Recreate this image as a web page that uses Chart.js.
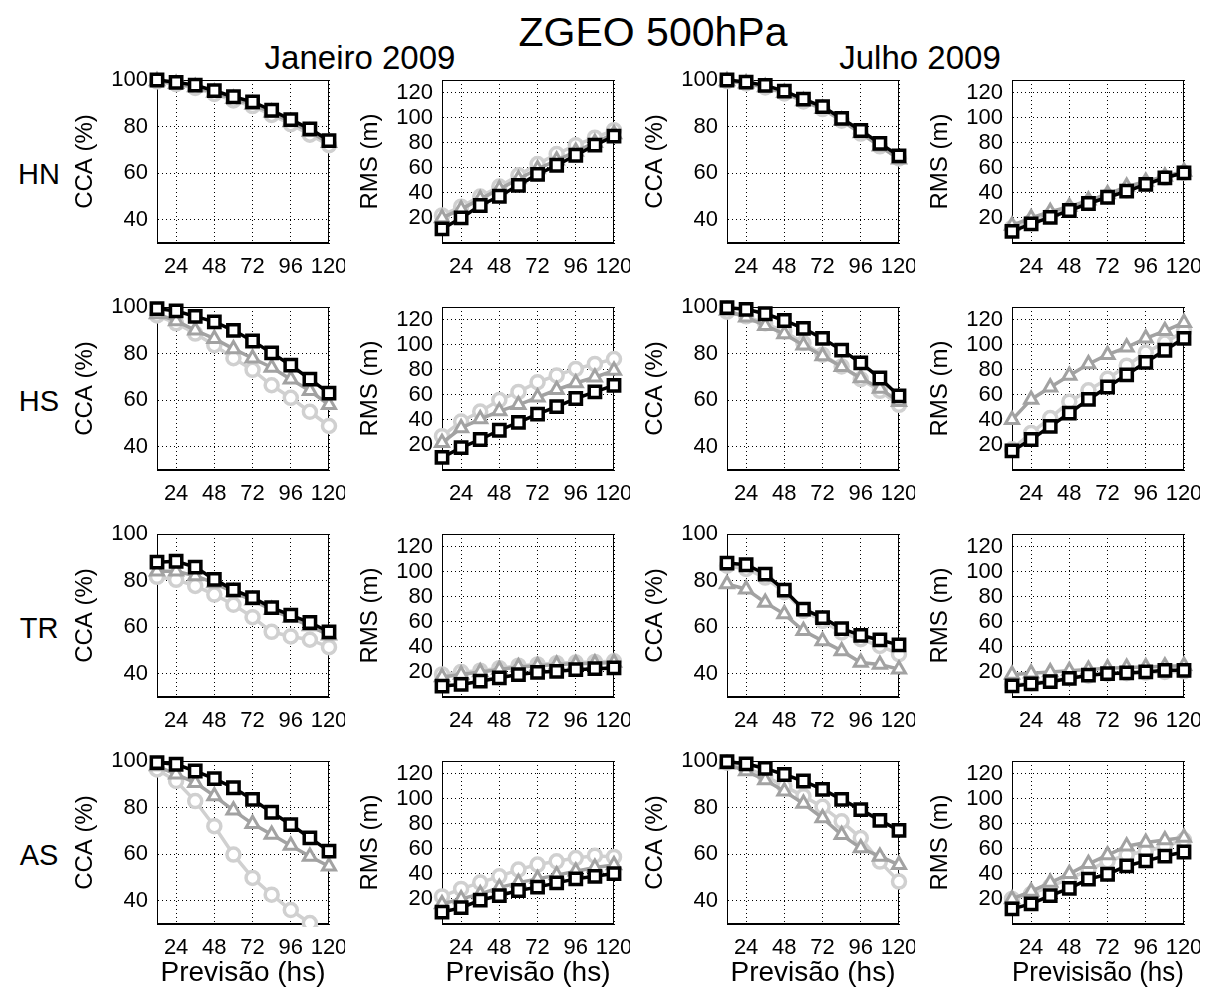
<!DOCTYPE html>
<html>
<head>
<meta charset="utf-8">
<script src="https://cdn.jsdelivr.net/npm/chart.js@4.4.1/dist/chart.umd.min.js"></script>
<style>
  body { margin: 0; background: #fff; }
  #fig { position: relative; width: 1207px; height: 988px; overflow: hidden; font-family: "Liberation Sans", Arial, sans-serif; }
  #fig canvas { position: absolute; }
  .txt { position: absolute; transform: translate(-50%, -50%); line-height: 1; white-space: nowrap; color: #000; }
</style>
</head>
<body>
<div id="fig"></div>
<script>
// eixo x: horas de previsao
const horas = [12, 24, 36, 48, 60, 72, 84, 96, 108, 120];
const xTicks = [24, 48, 72, 96, 120];
const ccaTicks = [40, 60, 80, 100];
const rmsTicks = [20, 40, 60, 80, 100, 120];
const linhas = ['HN', 'HS', 'TR', 'AS'];

// circulos (cinza claro), triangulos (cinza), quadrados (preto)
const hnJanCcaC = [99.4, 98.2, 96.6, 94, 91.2, 88.8, 85, 81, 76.5, 72];
const hnJanCcaT = [99.6, 98.4, 97, 94.6, 92, 89.5, 86, 82, 77.8, 73];
const hnJanCcaQ = [100, 99, 97.8, 95.4, 92.8, 90.6, 87, 83, 79, 74];
const hnJanRmsC = [22, 29, 37, 45, 54, 63, 71, 78, 84, 90];
const hnJanRmsT = [20, 27, 35, 43, 51, 59, 66, 73, 80, 87];
const hnJanRmsQ = [11.2, 20, 29.9, 37.3, 46, 54.7, 62, 70, 78, 85.3];

const hsJanCcaC = [96.4, 93, 88.6, 83.6, 78, 73, 66.4, 61, 55, 48.9];
const hsJanCcaT = [97, 94, 90, 86.4, 82, 78, 74, 69, 64, 58];
const hsJanCcaQ = [99.3, 98.3, 96, 93.6, 90, 85.4, 80.3, 75, 69, 63];
const hsJanRmsC = [27, 38.7, 46.6, 55.8, 62.3, 70, 75.4, 80.6, 84.6, 88.5];
const hsJanRmsT = [21.7, 33.5, 40.6, 47, 52, 58, 64, 69.4, 74, 79.3];
const hsJanRmsQ = [10, 17.8, 24.3, 31.7, 38, 44.5, 50.5, 57, 62.3, 67.5];

const trJanCcaC = [81.6, 80.3, 77.7, 74, 69.6, 64.3, 58, 56, 54.6, 51.4];
const trJanCcaT = [84, 84, 82, 79, 75, 71.5, 67.5, 64, 60.5, 56.5];
const trJanCcaQ = [87.9, 88.3, 85.8, 80.5, 76, 72.7, 68.4, 65.2, 62, 58];
const trJanRmsC = [18, 20, 21, 23, 25, 26, 27, 27.5, 28, 28.5];
const trJanRmsT = [16, 18, 20, 22, 24, 25, 26, 26.5, 27, 27.5];
const trJanRmsQ = [8.7, 10, 12.6, 15.3, 17.9, 19.7, 20.5, 21.8, 22.6, 23.2];

const asJanCcaC = [96.4, 91.4, 82.8, 72, 59.8, 49.8, 42.6, 36, 30.4, 25];
const asJanCcaT = [97.8, 94.3, 90.7, 85, 78.8, 73, 68.4, 63.7, 59, 54.8];
const asJanCcaQ = [99.3, 98.6, 95.7, 92.4, 88.5, 83.5, 78, 72.7, 67, 61.3];
const asJanRmsC = [22, 28, 33, 38, 43.4, 47.4, 50, 52.6, 54.5, 53.5];
const asJanRmsT = [16, 20, 24, 29, 33, 36, 39, 42, 45, 47];
const asJanRmsQ = [9.5, 13, 19, 22.7, 26.7, 29.4, 32.8, 36, 38, 40.2];

const hnJulCcaC = [99.5, 98.5, 96.8, 94.2, 90.8, 87.5, 82.5, 77, 71.5, 66.3];
const hnJulCcaT = [99.6, 98.6, 97, 94.5, 91, 87.6, 82.6, 77.2, 71.6, 66];
const hnJulCcaQ = [100, 99.1, 97.7, 95.2, 91.8, 88.6, 83.5, 78.3, 72.8, 67.4];
const hnJulRmsC = [12, 17, 22, 27, 32, 37, 42, 47, 52, 56];
const hnJulRmsT = [14, 20, 25, 29, 34, 39, 45, 49, 53, 57];
const hnJulRmsQ = [9.3, 15.2, 20.5, 25.9, 31.5, 36.5, 41.3, 46.7, 52, 56];

const hsJulCcaC = [98, 96, 93, 89.5, 84.5, 79.5, 74.5, 69, 64, 58];
const hsJulCcaT = [98.5, 95.6, 92, 88.4, 83.6, 79, 74.3, 69.5, 65, 59.3];
const hsJulCcaQ = [99.7, 99, 97.1, 94.2, 90.8, 86.5, 81.5, 76, 69.5, 61.8];
const hsJulRmsC = [16.5, 29.6, 41.4, 54.5, 63.6, 72.8, 83.2, 93.7, 101.6, 110.7];
const hsJulRmsT = [40, 56.3, 66, 75.4, 84.6, 92, 97.8, 105, 111, 117.5];
const hsJulRmsQ = [15.2, 24.3, 34.8, 45.3, 56.3, 66.2, 75.9, 85.9, 95.5, 105];

const trJulCcaC = [86.4, 85, 81.3, 75, 67, 62.7, 57.7, 54.8, 51.9, 48.4];
const trJulCcaT = [78.5, 76.3, 70.6, 65.6, 58.4, 54.1, 49.8, 44.8, 44, 41.9];
const trJulCcaQ = [87.5, 86.8, 82.8, 75.9, 67.7, 64.1, 59.4, 56.5, 54.5, 52.4];
const trJulRmsC = [9.5, 11, 13, 15, 17, 18.5, 19, 19.5, 20, 20.5];
const trJulRmsT = [18, 19, 20, 21, 22, 23, 23.5, 24, 24.5, 25];
const trJulRmsQ = [8.8, 10.4, 12.2, 14.8, 17.4, 18.7, 19.2, 20, 21.3, 21.3];

const asJulCcaC = [99.3, 97.1, 93.5, 89.2, 84.9, 80.3, 74.1, 66.9, 56.8, 48.2];
const asJulCcaT = [98.6, 95.7, 91.8, 87, 81.7, 75.5, 68.3, 62.6, 59, 55.4];
const asJulCcaQ = [99.7, 98.8, 96.8, 94.2, 91.4, 87.8, 83.5, 79.1, 74.5, 70.2];
const asJulRmsC = [20, 24, 30, 36, 43, 50, 55, 58, 62, 67];
const asJulRmsT = [20, 26, 33, 40, 48, 55, 62, 65, 67, 69];
const asJulRmsQ = [12.1, 16, 22.6, 28.4, 35.8, 39.7, 46.3, 50.3, 54.2, 57.4];

// [linha][coluna] -> [circulos, triangulos, quadrados]
const paineis = [
  [[hnJanCcaC, hnJanCcaT, hnJanCcaQ], [hnJanRmsC, hnJanRmsT, hnJanRmsQ], [hnJulCcaC, hnJulCcaT, hnJulCcaQ], [hnJulRmsC, hnJulRmsT, hnJulRmsQ]],
  [[hsJanCcaC, hsJanCcaT, hsJanCcaQ], [hsJanRmsC, hsJanRmsT, hsJanRmsQ], [hsJulCcaC, hsJulCcaT, hsJulCcaQ], [hsJulRmsC, hsJulRmsT, hsJulRmsQ]],
  [[trJanCcaC, trJanCcaT, trJanCcaQ], [trJanRmsC, trJanRmsT, trJanRmsQ], [trJulCcaC, trJulCcaT, trJulCcaQ], [trJulRmsC, trJulRmsT, trJulRmsQ]],
  [[asJanCcaC, asJanCcaT, asJanCcaQ], [asJanRmsC, asJanRmsT, asJanRmsQ], [asJulCcaC, asJulCcaT, asJulCcaQ], [asJulRmsC, asJulRmsT, asJulRmsQ]],
];

const colLeft = [157, 442, 727, 1012];
const rowTop = [80, 307, 534, 761];
const boxW = 172, boxH = 163;
const padL = 86, padT = 12, padR = 16;
const fonte = '"Liberation Sans", Arial, sans-serif';

const fig = document.getElementById('fig');

function addText(str, x, y, size) {
    const d = document.createElement('div');
    d.className = 'txt';
    d.style.left = x + 'px';
    d.style.top = y + 'px';
    d.style.fontSize = size + 'px';
    d.textContent = str;
    fig.appendChild(d);
}

addText('ZGEO 500hPa', 653, 32, 41);
addText('Janeiro 2009', 360, 57, 33);
addText('Julho 2009', 920, 57, 33);
linhas.forEach(function(nome, r) {
    addText(nome, 39, rowTop[r] + 94, 29);
});

const moldura = {
    id: 'moldura',
    beforeDatasetsDraw: function(chart) {
        const a = chart.chartArea;
        const ctx = chart.ctx;
        ctx.save();
        ctx.strokeStyle = '#000';
        ctx.lineWidth = 1;
        ctx.strokeRect(Math.round(a.left) + 0.5, Math.round(a.top) + 0.5, Math.round(a.right - a.left) - 1, Math.round(a.bottom - a.top) - 1);
        ctx.restore();
    }
};

function serie(vals, cor, estilo, raio, borda, ordem) {
    return {
        data: horas.map(function(h, i) { return {x: h, y: vals[i]}; }),
        borderColor: cor,
        backgroundColor: '#fff',
        borderWidth: 3.5,
        pointStyle: estilo,
        pointRadius: raio,
        pointBorderWidth: borda,
        pointBackgroundColor: '#fff',
        pointBorderColor: cor,
        tension: 0,
        order: ordem,
        clip: {left: 14, right: 14, top: 14, bottom: 3},
    };
}

paineis.forEach(function(linha, r) {
    linha.forEach(function(series, c) {
        const isCca = (c % 2 === 0);
        const ultima = (r === 3);
        const padB = ultima ? 66 : 40;
        const cv = document.createElement('canvas');
        const w = boxW + padL + padR, h = boxH + padT + padB;
        cv.width = w; cv.height = h;
        cv.style.width = w + 'px'; cv.style.height = h + 'px';
        cv.style.left = (colLeft[c] - padL) + 'px';
        cv.style.top = (rowTop[r] - padT) + 'px';
        fig.appendChild(cv);

        const yTicks = isCca ? ccaTicks : rmsTicks;
        const xLabel = (c === 3) ? 'Previsisão (hs)' : 'Previsão (hs)';

        new Chart(cv, {
            type: 'line',
            plugins: [moldura],
            data: {
                datasets: [
                    serie(series[2], '#000000', 'rect', 8, 3.5, 0),
                    serie(series[1], '#a2a2a2', 'triangle', 7.5, 3, 1),
                    serie(series[0], '#d0d0d0', 'circle', 6.5, 3.5, 2),
                ]
            },
            options: {
                responsive: false,
                animation: false,
                events: [],
                layout: { padding: { top: padT, right: padR, left: 0, bottom: 0 } },
                plugins: { legend: { display: false }, tooltip: { enabled: false } },
                scales: {
                    x: {
                        type: 'linear',
                        min: 12,
                        max: 120,
                        afterBuildTicks: function(scale) { scale.ticks = xTicks.map(function(v) { return {value: v}; }); },
                        afterFit: function(scale) {
                            scale.height = padB;
                            scale.paddingLeft = 0; scale.paddingRight = 0;
                        },
                        grid: { color: '#000', lineWidth: 1, drawTicks: false },
                        border: { display: true, color: '#000', dash: [1, 3] },
                        ticks: { color: '#000', padding: 11, maxRotation: 0, autoSkip: false, font: { family: fonte, size: 22 } },
                        title: { display: ultima, text: xLabel, color: '#000', padding: 0, font: { family: fonte, size: 28 } },
                    },
                    y: {
                        type: 'linear',
                        min: isCca ? 30 : 0,
                        max: isCca ? 100 : 130,
                        afterBuildTicks: function(scale) { scale.ticks = yTicks.map(function(v) { return {value: v}; }); },
                        afterFit: function(scale) {
                            scale.width = padL;
                            scale.paddingTop = 0; scale.paddingBottom = 0;
                        },
                        grid: { color: '#000', lineWidth: 1, drawTicks: false },
                        border: { display: true, color: '#000', dash: [1, 3] },
                        ticks: { color: '#000', padding: 9, autoSkip: false, font: { family: fonte, size: 22 } },
                        title: { display: true, text: isCca ? 'CCA (%)' : 'RMS (m)', color: '#000', padding: 0, font: { family: fonte, size: 24 } },
                    }
                }
            }
        });
    });
});
</script>
</body>
</html>
